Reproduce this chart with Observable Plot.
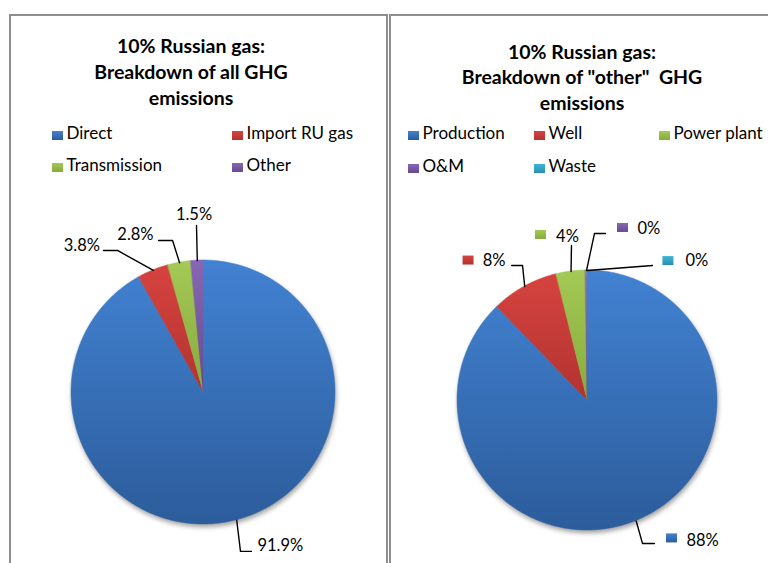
<!DOCTYPE html>
<html><head><meta charset="utf-8">
<script src="https://cdn.jsdelivr.net/npm/d3@7"></script>
<script src="https://cdn.jsdelivr.net/npm/@observablehq/plot@0.6"></script>
<style>
body{margin:0;background:#fff;}
#root{position:relative;width:768px;height:563px;overflow:hidden;font-family:Lato,"Open Sans",sans-serif;color:#000;}
.panel{position:absolute;box-sizing:border-box;border:2px solid #8e8e8e;background:#fff;}
.title{position:absolute;width:340px;text-align:center;font-weight:bold;font-size:19.5px;white-space:pre;}
.lg{position:absolute;font-size:17px;line-height:20px;white-space:nowrap;}
.sw{position:absolute;width:11px;height:9px;}
.plot{position:absolute;}
</style></head><body><div id="root"></div>
<script>
// ---------- data ----------
const leftTitle = ["10% Russian gas:", "Breakdown of all GHG", "emissions"];
const leftCategories = ["Direct", "Import RU gas", "Transmission", "Other"];
const leftValues = [91.9, 3.8, 2.8, 1.5];
const leftLabels = ["91.9%", "3.8%", "2.8%", "1.5%"];

const rightTitle = ["10% Russian gas:", "Breakdown of \"other\"  GHG", "emissions"];
const rightCategories = ["Production", "Well", "Power plant", "O&M", "Waste"];
const rightValues = [87.8, 8.4, 3.6, 0.2, 0.02];
const rightLabels = ["88%", "8%", "4%", "0%", "0%"];

// ---------- styles / layout ----------
const colors = [["#4282d2", "#2c5c9b"], ["#d6433f", "#b23330"], ["#a5c955", "#86aa3e"], ["#8767b3", "#664a90"], ["#40b5d5", "#2a8fae"]];
// label placement: elbow polar angle (deg, clockwise from top), radius (xR), horizontal segment (px), text offsets (px)
const leftLayout = [
  {ang: 166.9, rad: 1.236, seg: 11, anchor: "start", tdx: 6, tdy: -5.5},
  {ang: 328.8, rad: 1.258, seg: -14, anchor: "end", tdx: -3.5, tdy: -5},
  {ang: 348.5, rad: 1.175, seg: -14, anchor: "end", tdx: -5, tdy: -5.5},
  {ang: 357.6, rad: 1.266, seg: 0, anchor: "middle", tdx: -2.5, tdy: -11}
];
const rightLayout = [
  {ang: 158.96, rad: 1.178, seg: 12, anchor: "start", tdx: 32, tdy: -3, kdx: 17.5, kdy: -5},
  {ang: 334.3, rad: 1.152, seg: -11, anchor: "end", tdx: -6, tdy: -5, kdx: -43, kdy: -5},
  {ang: 354.1, rad: 1.199, seg: 0, anchor: "middle", tdx: -4, tdy: -9, kdx: -30.5, kdy: -10.5},
  {ang: 2.4, rad: 1.286, seg: 11, anchor: "start", tdx: 32, tdy: -5, kdx: 17.5, kdy: -5.5},
  {ang: 25.7, rad: 1.152, seg: 0, anchor: "start", tdx: 33, tdy: -5, kdx: 16, kdy: -4.5}
];

const root = document.getElementById("root");
root.insertAdjacentHTML("beforeend", `<svg width="0" height="0" style="position:absolute;left:0;top:0"><defs>
${colors.map((c, i) => `<linearGradient id="pg${i}" x1="0" y1="0" x2="0" y2="1"><stop offset="0" stop-color="${c[0]}"/><stop offset="1" stop-color="${c[1]}"/></linearGradient>`).join("")}
<filter id="pshadow" x="-20%" y="-20%" width="140%" height="140%"><feGaussianBlur in="SourceAlpha" stdDeviation="2.6"/><feOffset dx="1" dy="2.5"/><feComponentTransfer><feFuncA type="linear" slope="0.38"/></feComponentTransfer></filter>
</defs></svg>`);

function el(cls, style, text) {
  const d = document.createElement("div");
  d.className = cls;
  Object.assign(d.style, style);
  if (text != null) d.textContent = text;
  root.appendChild(d);
  return d;
}

// panels
el("panel", {left: "9px", top: "14px", width: "379px", height: "600px"});
el("panel", {left: "389px", top: "14px", width: "420px", height: "600px"});

function title(lines, centerX, top, lh) {
  const t = el("title", {left: (centerX - 170) + "px", top: top + "px", lineHeight: lh + "px"});
  t.textContent = lines.join("\n");
}
title(leftTitle, 191, 32.5, 26);
title(rightTitle, 582, 38.5, 25.5);

function legend(cats, cols, rows) {
  cats.forEach((c, i) => {
    const col = cols[i % cols.length], base = rows[Math.floor(i / cols.length)];
    const g = colors[i];
    el("sw", {left: col + "px", top: (base - 9) + "px", background: `linear-gradient(${g[0]}, ${g[1]})`});
    el("lg", {left: (col + 14.5) + "px", top: (base - 16.6) + "px"}, c);
  });
}
legend(leftCategories, [52, 232], [140, 172]);
legend(rightCategories, [408, 534, 659], [140, 172.7]);

function pie({values, labels, layout, R, cx, cy, W, H, keyed, left, top}) {
  const arcs = d3.pie().sort(null).value(d => d)(values);
  const slicePts = arcs.map(a => {
    const n = Math.max(2, Math.ceil((a.endAngle - a.startAngle) * 180 / Math.PI * 2) + 1);
    return d3.range(n).map(k => {
      const t = a.startAngle + (a.endAngle - a.startAngle) * k / (n - 1);
      return {x: R * Math.sin(t), y: R * Math.cos(t)};
    });
  });
  const marks = [];
  marks.push(Plot.area(slicePts.flat(), {x1: "x", y1: "y", x2: 0, y2: 0, fill: "#000"}));
  arcs.forEach((a, i) => {
    const big = (a.endAngle - a.startAngle) > 0.008;
    marks.push(Plot.area(slicePts[i], {x1: "x", y1: "y", x2: 0, y2: 0, fill: `url(#pg${i})`,
      stroke: big ? `url(#pg${i})` : "none", strokeWidth: 0.5}));
  });
  const lead = [];
  arcs.forEach((a, i) => {
    const m = (a.startAngle + a.endAngle) / 2;
    const L = layout[i];
    const ea = L.ang * Math.PI / 180;
    const ex = L.rad * R * Math.sin(ea), ey = L.rad * R * Math.cos(ea);
    lead.push({i, x: R * Math.sin(m), y: R * Math.cos(m)}, {i, x: ex, y: ey}, {i, x: ex + L.seg, y: ey});
    const sx = ex + L.seg, sy = ey;
    marks.push(Plot.text([labels[i]], {x: sx + L.tdx, y: sy - L.tdy, text: d => d, textAnchor: L.anchor,
      lineAnchor: "middle", fontSize: 16.5, fill: "#000", fontFamily: "Lato"}));
    if (keyed) {
      const kx = sx + L.kdx, ky = sy - L.kdy;
      marks.push(Plot.rect([0], {x1: kx - 5.5, x2: kx + 5.5, y1: ky - 4.5, y2: ky + 4.5, fill: `url(#pg${i})`}));
    }
  });
  marks.push(Plot.line(lead, {x: "x", y: "y", z: "i", stroke: "#000", strokeWidth: 1.4, curve: "linear"}));
  const svg = Plot.plot({
    width: W, height: H, margin: 0,
    x: {domain: [-R, R], range: [cx - R, cx + R], axis: null},
    y: {domain: [-R, R], range: [cy + R, cy - R], axis: null},
    style: {background: "transparent", overflow: "visible"},
    marks
  });
  const g = svg.querySelector('g[aria-label="area"]');
  if (g) g.setAttribute("filter", "url(#pshadow)");
  svg.classList.add("plot");
  svg.style.position = "absolute";
  svg.style.left = left + "px";
  svg.style.top = top + "px";
  root.appendChild(svg);
}

pie({values: leftValues, labels: leftLabels, layout: leftLayout, R: 132, cx: 192, cy: 207, W: 375, H: 378, keyed: false, left: 11, top: 185});
pie({values: rightValues, labels: rightLabels, layout: rightLayout, R: 130, cx: 196, cy: 215, W: 377, H: 378, keyed: true, left: 391, top: 185});
</script>
</body></html>
